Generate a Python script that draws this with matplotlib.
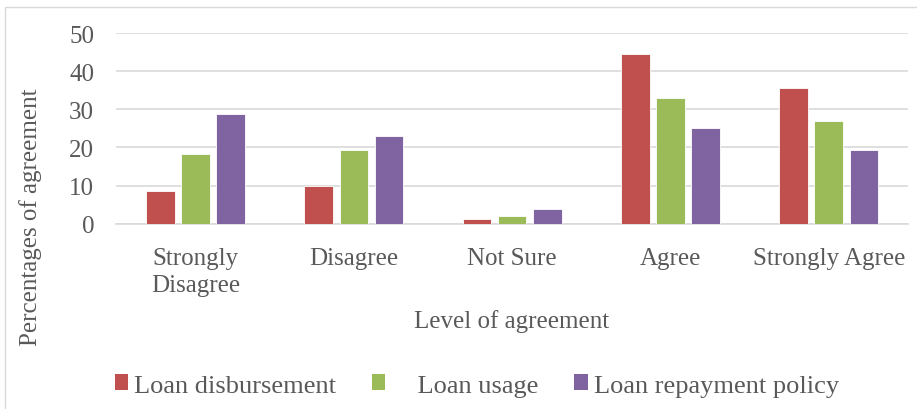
import matplotlib
matplotlib.use("Agg")
import matplotlib.pyplot as plt
import numpy as np
from matplotlib.patches import Rectangle, Patch

categories = ["Strongly\nDisagree", "Disagree", "Not Sure", "Agree", "Strongly Agree"]
loan_disbursement = [8.6, 10.0, 1.1, 44.4, 35.7]
loan_usage = [18.4, 19.3, 2.1, 33.0, 27.0]
loan_repayment = [28.7, 22.9, 3.85, 25.1, 19.2]
series_names = ["Loan disbursement", "Loan usage", "Loan repayment policy"]
colors = ["#C0504D", "#9BBB59", "#8064A2"]
yticks = [0, 10, 20, 30, 40, 50]

plt.rcParams['font.family'] = ['Liberation Serif', 'DejaVu Serif']
txt = "#595959"
fs = 18

fig = plt.figure(figsize=(9.17, 4.10), dpi=100)
ax = fig.add_axes([0.127, 0.452, 0.863, 0.465])

x = np.arange(len(categories))
w = 0.18
step = 0.222
for i, (vals, c) in enumerate(zip([loan_disbursement, loan_usage, loan_repayment], colors)):
    ax.bar(x + (i - 1) * step, vals, width=w, color=c, edgecolor="white", linewidth=0.6, zorder=3)

ax.set_xlim(-0.5, len(categories) - 0.5)
ax.set_ylim(0, 50)
ax.set_yticks(yticks)
ax.set_yticklabels([str(t) for t in yticks], fontsize=fs, color=txt)
ax.set_xticks(x)
ax.set_xticklabels(categories, fontsize=fs, color=txt, linespacing=1.25)
ax.tick_params(axis='both', length=0)
ax.tick_params(axis='x', pad=17)
ax.tick_params(axis='y', pad=16)
ax.grid(axis='y', color="#d9d9d9", linewidth=1.2, zorder=0)
for s in ["top", "right", "left"]:
    ax.spines[s].set_visible(False)
ax.spines["bottom"].set_color("#d9d9d9")
ax.spines["bottom"].set_linewidth(1.2)

fig.text(512 / 917, 1 - 322 / 410, "Level of agreement", fontsize=fs, color=txt,
         ha="center", va="center")
fig.text(0.033, 1 - 217 / 410, "Percentages of agreement", rotation=90, fontsize=fs,
         color=txt, ha="center", va="center")

handles = [Patch(facecolor=c, edgecolor="none") for c in colors]
labels = [series_names[0], "    " + series_names[1], series_names[2]]
fig.legend(handles, labels, loc="center", bbox_to_anchor=(0.52, 0.057), ncol=3,
           frameon=False, fontsize=19, labelcolor=txt, handlelength=0.5,
           handleheight=0.55, handletextpad=0.24, columnspacing=1.35,
           borderpad=0, borderaxespad=0)

fig.patches.append(Rectangle((5 / 917, -0.1), 1.2, 1 - 8 / 410 + 0.1,
                             transform=fig.transFigure, fill=False,
                             edgecolor="#d9d9d9", linewidth=1.0))

fig.savefig("out.png", dpi=100)
